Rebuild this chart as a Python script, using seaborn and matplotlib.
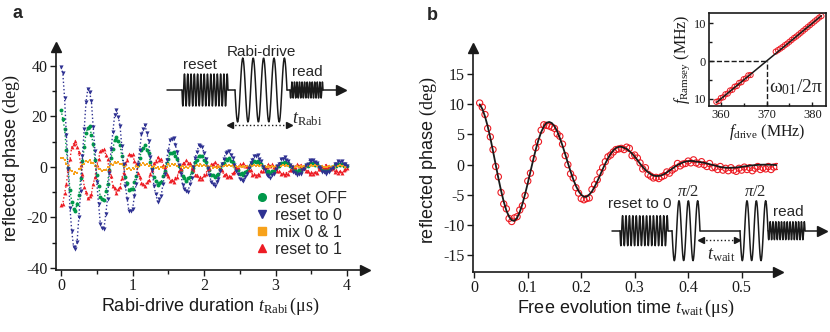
import numpy as np
import matplotlib
matplotlib.use("Agg")
import matplotlib.pyplot as plt
import seaborn as sns
from matplotlib.lines import Line2D
from matplotlib.ticker import FixedLocator

sns.set_theme(style="ticks")
plt.rcParams["font.family"] = ["Liberation Sans", "DejaVu Sans"]
plt.rcParams["mathtext.fontset"] = "custom"
plt.rcParams["mathtext.rm"] = "Liberation Serif"
plt.rcParams["mathtext.it"] = "Liberation Serif:italic"
plt.rcParams["mathtext.bf"] = "Liberation Serif:bold"
plt.rcParams["axes.unicode_minus"] = False

SERIF = "Liberation Serif"
C_GREEN, C_BLUE, C_ORANGE, C_RED = "#00984a", "#2e3192", "#f7a21b", "#ed1c24"

# ---- panel a: Rabi oscillations, sampled every 25 ns ----
T_RABI = np.round(np.arange(161) * 0.025, 3)

RESET_TO_0 = [
    39.5, 37.2, 27.3, 12.6, -0.8, -16.1, -25.4, -31.5, -32.3, -29.6,
    -19.8, -9.7, 4.5, 15.2, 25.9, 30.8, 29.5, 26.0, 15.8, 6.3,
    -6.1, -14.6, -22.5, -24.2, -24.6, -18.8, -12.6, -2.2, 7.0, 13.9,
    20.6, 22.5, 19.9, 16.4, 8.2, 1.3, -7.5, -12.7, -17.4, -17.3,
    -16.8, -11.6, -6.6, 1.2, 6.7, 12.9, 15.0, 16.5, 13.3, 10.2,
    3.8, -1.3, -7.6, -10.8, -13.7, -12.7, -11.5, -6.9, -2.9, 2.9,
    6.5, 10.5, 11.2, 11.6, 8.6, 6.0, 0.9, -2.6, -7.0, -8.6,
    -9.7, -9.8, -6.8, -4.5, -0.1, 3.6, 5.8, 8.5, 8.3, 8.0,
    5.4, 3.2, -0.6, -3.0, -6.0, -6.7, -7.6, -6.0, -4.7, -1.6,
    1.1, 3.0, 5.5, 5.9, 6.5, 4.9, 3.7, 0.9, -1.5, -2.9,
    -4.9, -5.0, -5.4, -3.9, -2.9, -0.3, 1.7, 2.7, 4.5, 4.3,
    4.6, 3.0, 2.2, -0.1, -1.2, -3.1, -3.4, -4.3, -3.3, -2.9,
    -1.0, 0.4, 1.3, 3.0, 3.0, 3.8, 2.7, 2.4, 0.6, -0.1,
    -1.9, -2.3, -3.3, -2.8, -2.8, -1.4, -0.9, 0.9, 1.3, 2.7,
    2.4, 2.9, 1.8, 1.6, 0.0, -0.4, -1.9, -1.8, -2.7, -1.9,
    -2.0, -0.7, -0.4, 1.1, 1.2, 2.2, 1.8, 2.2, 1.1, 1.0,
    0.3]

RESET_OFF = [
    22.6, 19.1, 15.2, 6.8, -0.3, -9.0, -13.8, -16.6, -17.5, -14.5,
    -11.2, -4.2, 2.4, 7.8, 13.6, 15.4, 16.1, 12.7, 9.1, 2.6,
    -3.3, -7.4, -11.9, -12.5, -12.9, -9.7, -6.6, -1.1, 3.7, 7.1,
    10.8, 11.9, 10.3, 8.6, 4.2, 0.8, -3.9, -6.5, -9.2, -8.9,
    -8.8, -5.9, -3.5, 0.7, 3.4, 6.8, 7.7, 8.6, 6.9, 5.4,
    1.9, -0.6, -4.0, -5.5, -7.2, -6.5, -6.1, -3.5, -1.6, 1.6,
    3.3, 5.6, 5.7, 6.1, 4.4, 3.2, 0.4, -1.3, -3.7, -4.4,
    -5.5, -4.5, -4.0, -1.8, -0.5, 2.0, 2.9, 4.5, 4.2, 4.3,
    2.7, 1.8, -0.5, -1.4, -3.3, -3.3, -4.1, -3.0, -2.6, -0.7,
    0.7, 1.4, 3.0, 2.9, 3.5, 2.4, 2.1, 0.3, -0.9, -1.4,
    -2.7, -2.5, -3.0, -1.9, -1.7, 0.0, 1.0, 1.3, 2.5, 2.1,
    2.5, 1.4, 1.3, -0.2, -0.5, -1.8, -1.6, -2.4, -1.6, -1.7,
    -0.4, 0.3, 0.5, 1.7, 1.4, 2.1, 1.3, 1.4, 0.2, 0.1,
    -1.1, -1.1, -1.9, -1.3, -1.6, -0.6, -0.6, 0.6, 0.5, 1.5,
    1.1, 1.7, 0.8, 1.0, -0.1, -0.1, -1.1, -0.8, -1.5, -0.8,
    -1.2, -0.2, -0.4, 0.7, 0.5, 1.3, 0.8, 1.3, 0.4, 0.7,
    0.2]

RESET_TO_1 = [
    -15.0, -14.6, -10.3, -6.9, -0.8, 3.0, 7.9, 9.1, 10.3, 8.0,
    5.9, 0.8, -2.6, -7.8, -9.9, -12.4, -11.4, -10.7, -6.8, -4.1,
    0.7, 3.1, 6.5, 6.7, 7.3, 4.9, 3.1, -1.1, -3.5, -7.4,
    -8.5, -10.3, -8.8, -7.9, -4.4, -2.3, 1.4, 2.9, 5.2, 4.7,
    5.0, 2.4, 1.0, -2.2, -3.8, -6.4, -6.7, -7.6, -6.0, -5.3,
    -2.6, -1.3, 1.5, 2.2, 3.8, 2.9, 3.0, 0.8, -0.2, -2.8,
    -3.6, -5.5, -5.2, -5.9, -4.2, -3.8, -1.5, -0.7, 1.4, 1.5,
    2.6, 1.6, 1.6, -0.3, -0.9, -3.0, -3.2, -4.7, -4.0, -4.6,
    -3.0, -2.7, -0.8, -0.5, 1.2, 1.0, 1.8, 0.7, 0.8, -1.0,
    -1.2, -3.0, -2.9, -4.1, -3.4, -3.8, -2.2, -2.1, -0.3, -0.2,
    1.1, 0.7, 1.4, 0.2, 0.3, -1.3, -1.4, -3.0, -2.7, -3.7,
    -2.8, -3.2, -1.6, -1.6, 0.0, -0.1, 1.1, 0.4, 1.0, -0.2,
    0.0, -1.6, -1.5, -2.8, -2.4, -3.3, -2.3, -2.6, -1.1, -1.2,
    0.2, 0.0, 1.1, 0.3, 0.8, -0.5, -0.3, -1.7, -1.5, -2.8,
    -2.1, -2.9, -1.8, -2.2, -0.7, -0.9, 0.4, -0.1, 0.9, 0.0,
    0.5, -0.7, -0.4, -1.8, -1.4, -2.5, -1.7, -2.4, -1.3, -1.0,
    -0.6]

MIX_0_1 = [
    3.4, 3.7, 2.8, 1.0, 0.5, -1.3, -1.5, -2.6, -2.0, -2.3,
    -1.0, -0.7, 0.9, 1.2, 2.4, 2.0, 2.7, 1.7, 1.7, 0.4,
    0.2, -1.0, -0.9, -1.7, -1.1, -1.4, -0.2, -0.2, 1.0, 0.9,
    1.8, 1.4, 1.9, 1.0, 1.2, 0.1, 0.2, -0.8, -0.4, -1.1,
    -0.4, -0.7, 0.2, 0.0, 1.0, 0.7, 1.4, 0.9, 1.3, 0.5,
    0.8, -0.1, 0.2, -0.6, -0.2, -0.7, 0.0, -0.4, 0.5, 0.1,
    1.0, 0.5, 1.1, 0.6, 1.0, 0.3, 0.6, -0.1, 0.2, -0.4,
    0.1, -0.5, 0.2, -0.2, 0.5, 0.2, 0.9, 0.4, 1.0, 0.5,
    0.8, 0.2, 0.5, -0.1, 0.3, -0.3, 0.1, -0.3, 0.3, 0.0,
    0.5, 0.2, 0.8, 0.4, 0.9, 0.3, 0.7, 0.1, 0.4, -0.1,
    0.3, -0.2, 0.2, -0.2, 0.4, 0.1, 0.6, 0.3, 0.8, 0.4,
    0.8, 0.2, 0.6, 0.1, 0.4, -0.1, 0.2, -0.2, 0.2, -0.1,
    0.4, 0.1, 0.6, 0.3, 0.8, 0.4, 0.8, 0.3, 0.6, 0.1,
    0.3, -0.1, 0.2, -0.2, 0.2, -0.1, 0.4, 0.1, 0.6, 0.3,
    0.8, 0.4, 0.7, 0.2, 0.5, 0.0, 0.3, -0.2, 0.1, -0.2,
    0.2, -0.1, 0.4, 0.1, 0.6, 0.3, 0.7, 0.3, 0.6, 0.1,
    0.2]

# ---- panel b: Ramsey fringes, sampled every 5 ns ----
T_WAIT = np.round(0.01 + np.arange(112) * 0.005, 3)

RAMSEY_DATA = [
    10.2, 9.5, 8.3, 6.0, 4.6, 2.5, -0.3, -2.0, -4.6, -6.5,
    -7.3, -8.9, -9.4, -8.8, -8.6, -7.5, -6.8, -5.1, -2.7, -1.4,
    1.0, 2.8, 3.8, 5.7, 6.6, 6.5, 6.4, 6.2, 6.0, 5.1,
    4.7, 3.4, 1.5, 0.0, -1.5, -2.2, -3.8, -4.7, -5.6, -5.8,
    -5.6, -5.5, -4.1, -3.3, -2.5, -1.3, -0.5, 0.5, 1.3, 1.6,
    2.1, 2.5, 2.6, 2.7, 2.5, 2.9, 2.7, 1.5, 1.6, 1.1,
    0.3, -0.7, -0.5, -1.6, -1.9, -2.2, -2.1, -2.3, -2.0, -1.8,
    -1.2, -1.4, -0.9, -0.6, 0.2, -0.2, 0.1, 0.2, 0.6, 0.3,
    0.8, 0.3, 0.1, 0.5, 0.0, -0.3, 0.2, -0.5, -0.4, -0.8,
    -0.3, -0.9, -0.6, -1.0, -0.5, -0.9, -1.1, -0.6, -0.9, -0.4,
    -0.8, -0.5, -1.0, -0.6, -0.3, -0.8, -0.5, -0.7, -0.3, -0.8,
    -0.4, -0.3]

RAMSEY_FIT = [
    9.98, 9.24, 7.98, 6.36, 4.42, 2.24, 0.00, -2.22, -4.28, -6.10,
    -7.58, -8.60, -9.19, -9.29, -8.78, -7.83, -6.50, -4.86, -3.05, -1.15,
    0.75, 2.53, 4.10, 5.37, 6.33, 6.92, 7.07, 6.88, 6.34, 5.53,
    4.41, 3.14, 1.73, 0.29, -1.11, -2.40, -3.50, -4.38, -4.97, -5.30,
    -5.30, -4.96, -4.43, -3.65, -2.77, -1.78, -0.77, 0.19, 1.06, 1.80,
    2.36, 2.76, 2.94, 2.97, 2.79, 2.61, 2.25, 1.84, 1.32, 0.78,
    0.17, -0.37, -0.84, -1.24, -1.56, -1.80, -1.88, -1.85, -1.77, -1.56,
    -1.29, -0.98, -0.67, -0.35, -0.05, 0.15, 0.37, 0.51, 0.58, 0.63,
    0.59, 0.50, 0.46, 0.39, 0.31, 0.20, 0.08, -0.03, -0.14, -0.25,
    -0.38, -0.45, -0.49, -0.51, -0.51, -0.50, -0.46, -0.41, -0.35, -0.29,
    -0.22, -0.16, -0.11, -0.07, -0.03, -0.01, 0.00, 0.01, 0.00, -0.01,
    -0.03, -0.06]

# ---- inset: Ramsey frequency vs drive frequency ----
F_DRIVE = [359.0, 359.5, 360.0, 360.5, 361.0, 361.5, 362.0, 362.5,
           363.0, 363.5, 364.0, 364.5, 365.0, 365.5, 366.0, 366.5,
           372.0, 372.5, 373.0, 373.5, 374.0, 374.5, 375.0, 375.5,
           376.0, 376.5, 377.0, 377.5, 378.0, 378.5, 379.0, 379.5,
           380.0, 380.5, 381.0, 381.5, 382.0]
F_RAMSEY = [-10.8, -10.6, -9.8, -9.6, -8.8, -8.6, -7.8, -7.6,
            -6.8, -6.6, -5.8, -5.6, -4.8, -4.6, -3.8, -3.7,
            2.5, 2.9, 3.3, 3.7, 4.2, 4.6, 5.1, 5.6,
            6.1, 6.5, 7.0, 7.5, 8.0, 8.5, 9.0, 9.5,
            10.0, 10.5, 11.0, 11.5, 11.9]
LINE_DRIVE = [359.0, 382.0]
LINE_RAMSEY = [-11.0, 12.0]
F01 = 370.0

W, H = 830, 332
fig = plt.figure(figsize=(W / 100, H / 100), dpi=100)


def px_axes(left, top, right, bottom):
    return fig.add_axes([left / W, 1 - bottom / H, (right - left) / W, (bottom - top) / H])


def arrow_axes(ax):
    for s in ["top", "right"]:
        ax.spines[s].set_visible(False)
    for s in ["left", "bottom"]:
        ax.spines[s].set_linewidth(1.2)
        ax.spines[s].set_color("k")
    ax.plot(1, 0, ">k", transform=ax.transAxes, clip_on=False, ms=7)
    ax.plot(0, 1, "^k", transform=ax.transAxes, clip_on=False, ms=7)
    ax.tick_params(which="both", direction="out", color="k", width=1.0,
                   labelsize=11.5, labelfontfamily=SERIF, pad=2, labelcolor="k")
    ax.tick_params(which="major", length=4)
    ax.tick_params(which="minor", length=3)


ax_a = px_axes(56, 47, 365, 270)
ax_b = px_axes(472.7, 48, 778, 271.7)
ax_in = px_axes(709, 12.7, 826, 106)

# panel a (drawing order: green, red, orange, blue on top)
series = [("reset OFF", RESET_OFF, C_GREEN, "o", 2.8),
          ("reset to 1", RESET_TO_1, C_RED, "^", 2.8),
          ("mix 0 & 1", MIX_0_1, C_ORANGE, "s", 2.0),
          ("reset to 0", RESET_TO_0, C_BLUE, "v", 3.0)]
for name, ys, col, mk, size in series:
    sns.lineplot(x=T_RABI, y=ys, ax=ax_a, color=col, marker=mk, markersize=size,
                 markeredgewidth=0, linestyle=":", linewidth=1.0,
                 estimator=None, sort=False, legend=False)

ax_a.set_xlim(-0.07, 4.25)
ax_a.set_ylim(-40.8, 47.5)
ax_a.set_xticks([0, 1, 2, 3, 4])
ax_a.xaxis.set_minor_locator(FixedLocator([0.5, 1.5, 2.5, 3.5]))
ax_a.set_yticks([-40, -20, 0, 20, 40])
ax_a.yaxis.set_minor_locator(FixedLocator([-30, -10, 10, 30]))
arrow_axes(ax_a)
ax_a.set_xlabel("Rabi-drive duration " + r"$t_{\mathrm{Rabi}}\,(\mathrm{\mu s})$",
                fontsize=13, labelpad=1, color="k")
ax_a.set_ylabel("reflected phase " + r"$(\mathrm{deg})$", fontsize=13, labelpad=3, color="k")

handles = [Line2D([], [], ls="none", marker="o", color=C_GREEN, ms=5.5),
           Line2D([], [], ls="none", marker="v", color=C_BLUE, ms=5.5),
           Line2D([], [], ls="none", marker="s", color=C_ORANGE, ms=5.5),
           Line2D([], [], ls="none", marker="^", color=C_RED, ms=5.5)]
ax_a.legend(handles, ["reset OFF", "reset to 0", "mix 0 & 1", "reset to 1"],
            loc="upper left", bbox_to_anchor=(0.64, 0.355), frameon=False,
            fontsize=11.5, handlelength=1.0, handletextpad=0.3,
            labelspacing=0.12, borderpad=0, borderaxespad=0)

# panel b
sns.scatterplot(x=T_WAIT, y=RAMSEY_DATA, ax=ax_b, marker="o", s=20,
                facecolor="none", edgecolor=C_RED, linewidth=0.8, legend=False)
sns.lineplot(x=T_WAIT, y=RAMSEY_FIT, ax=ax_b, color="k", linewidth=1.3,
             estimator=None, legend=False)
ax_b.set_xlim(-0.003, 0.568)
ax_b.set_ylim(-17.7, 19.3)
ax_b.set_xticks([0, 0.1, 0.2, 0.3, 0.4, 0.5])
ax_b.set_xticklabels(["0", "0.1", "0.2", "0.3", "0.4", "0.5"])
ax_b.set_yticks([-15, -10, -5, 0, 5, 10, 15])
arrow_axes(ax_b)
ax_b.set_xlabel("Free evolution time " + r"$t_{\mathrm{wait}}\,(\mathrm{\mu s})$",
                fontsize=13, labelpad=1, color="k")
ax_b.set_ylabel("reflected phase " + r"$(\mathrm{deg})$", fontsize=13, labelpad=3, color="k")

# inset
sns.scatterplot(x=F_DRIVE, y=F_RAMSEY, ax=ax_in, marker="o", s=14,
                facecolor="none", edgecolor=C_RED, linewidth=0.7, legend=False)
sns.lineplot(x=LINE_DRIVE, y=LINE_RAMSEY, ax=ax_in, color="k", linewidth=1.1,
             estimator=None, legend=False)
ax_in.set_xlim(357.4, 383.0)
ax_in.set_ylim(-11.9, 12.8)
ax_in.plot([357.4, F01], [0, 0], color="k", ls="--", lw=1.0)
ax_in.plot([F01, F01], [-11.9, 0], color="k", ls="--", lw=1.0)
ax_in.set_xticks([360, 370, 380])
ax_in.xaxis.set_minor_locator(FixedLocator([365, 375]))
ax_in.set_yticks([-10, 0, 10])
ax_in.set_yticklabels(["10", "0", "10"])
ax_in.yaxis.set_minor_locator(FixedLocator([-5, 5]))
for s in ax_in.spines.values():
    s.set_linewidth(1.2)
    s.set_color("k")
ax_in.tick_params(which="both", direction="in", color="k", width=1.0,
                  labelsize=9, labelfontfamily=SERIF, pad=2, labelcolor="k")
ax_in.tick_params(which="major", length=3)
ax_in.tick_params(which="minor", length=2)
ax_in.set_xlabel(r"$f_{\mathrm{drive}}\ (\mathrm{MHz})$", fontsize=11.5, labelpad=1, color="k")
ax_in.set_ylabel(r"$f_{\mathrm{Ramsey}}\ (\mathrm{MHz})$", fontsize=11.5, labelpad=1, color="k")
ax_in.text(370.5, -7.0, r"$\mathrm{\omega_{01}/2\pi}$", fontsize=14, va="center", ha="left")

# pulse-sequence sketches, drawn in figure pixels
ov = fig.add_axes([0, 0, 1, 1])
ov.set_xlim(0, W)
ov.set_ylim(H, 0)
ov.axis("off")


def burst(x0, x1, y0, amp, cycles, lw=1.1):
    xs = np.linspace(x0, x1, int(cycles * 24) + 2)
    ov.plot(xs, y0 + amp * np.sin(2 * np.pi * cycles * (xs - x0) / (x1 - x0)),
            color="k", lw=lw)


def wire(x0, x1, y0):
    ov.plot([x0, x1], [y0, y0], color="k", lw=1.1)


def span_arrow(x0, x1, y0):
    ov.plot([x0 + 3, x1 - 3], [y0, y0], color="k", ls=":", lw=1.0)
    ov.plot(x0 + 2, y0, "<k", ms=5)
    ov.plot(x1 - 2, y0, ">k", ms=5)


ya = 90
wire(167, 182, ya)
burst(182, 228, ya, 16, 14)
wire(228, 235, ya)
burst(235, 287, ya, 32, 5)
wire(287, 290, ya)
burst(290, 323, ya, 8, 13)
wire(323, 340, ya)
ov.plot(341, ya, ">k", ms=7)
ov.text(200, 65, "reset", ha="center", va="center", fontsize=11)
ov.text(261, 52, "Rabi-drive", ha="center", va="center", fontsize=11)
ov.text(307, 72, "read", ha="center", va="center", fontsize=11)
span_arrow(228, 291, 125)
ov.text(292, 119, r"$t_{\mathrm{Rabi}}$", ha="left", va="center", fontsize=13)

yb = 230.7
wire(612, 620, yb)
burst(620, 668, yb, 15, 14)
wire(668, 672, yb)
burst(672, 700, yb, 30, 3)
wire(700, 740, yb)
burst(740, 768, yb, 30, 3)
burst(768, 805, yb, 9, 13)
wire(805, 821, yb)
ov.plot(822, yb, ">k", ms=7)
ov.text(640, 204, "reset to 0", ha="center", va="center", fontsize=11)
ov.text(688, 191, r"$\pi/2$", ha="center", va="center", fontsize=12)
ov.text(755, 191, r"$\pi/2$", ha="center", va="center", fontsize=12)
ov.text(788, 212, "read", ha="center", va="center", fontsize=11)
span_arrow(699, 739, 240)
ov.text(707, 255, r"$t_{\mathrm{wait}}$", ha="left", va="center", fontsize=13)

fig.text(12 / W, 1 - 14 / H, "a", fontsize=13, fontweight="bold", va="center")
fig.text(427 / W, 1 - 16 / H, "b", fontsize=13, fontweight="bold", va="center")

fig.savefig("out.png", dpi=100)
